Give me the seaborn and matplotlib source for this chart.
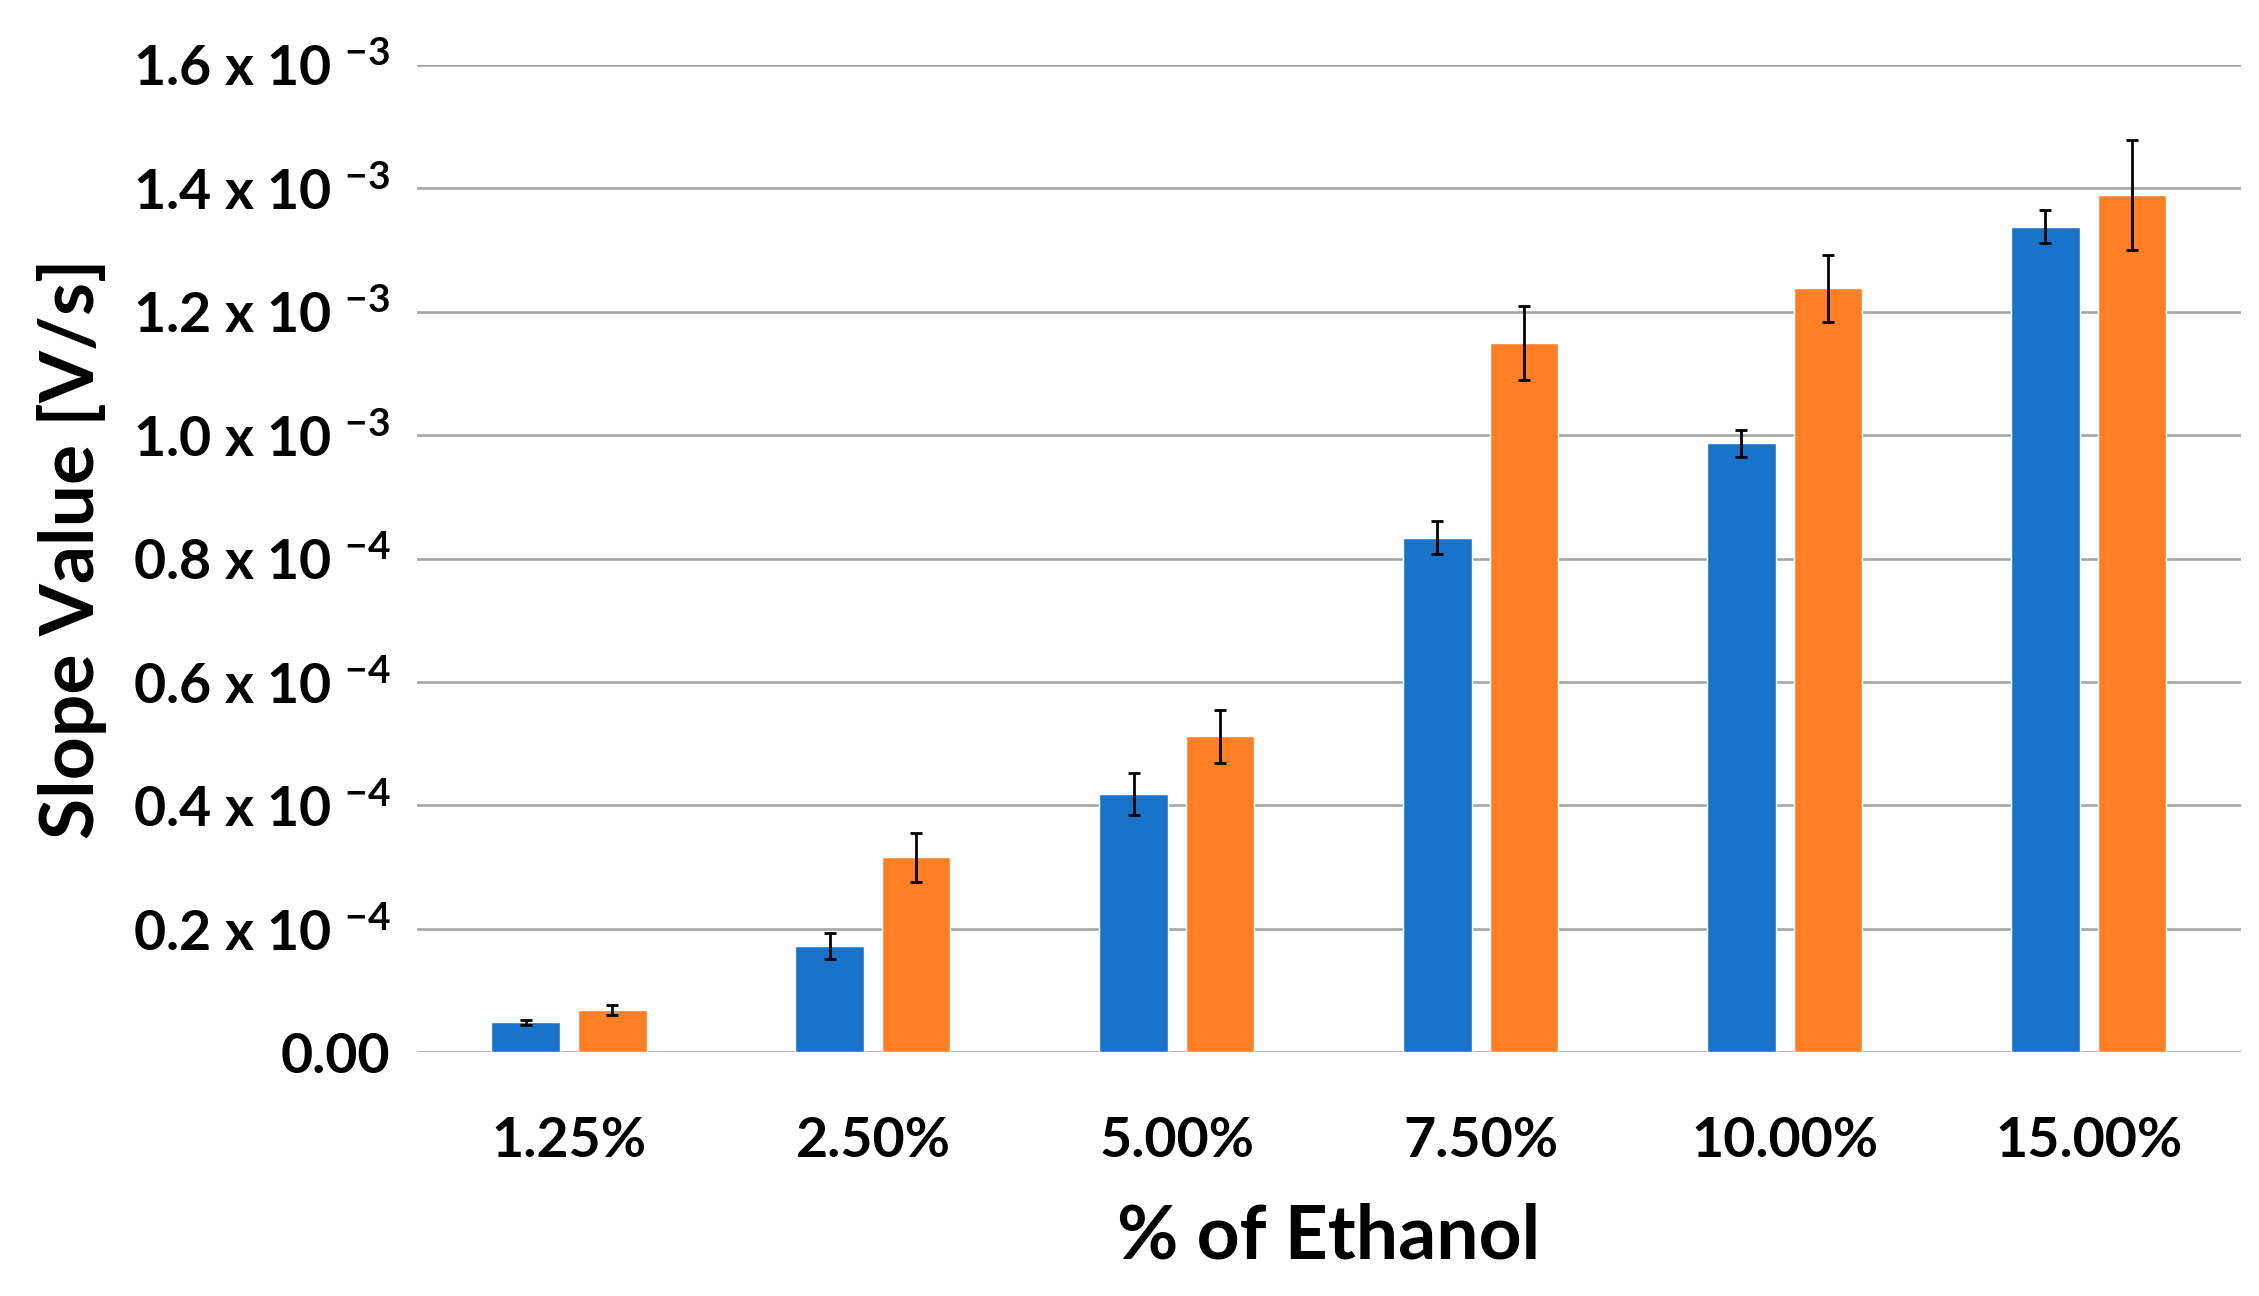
import pandas as pd
import seaborn as sns
import matplotlib.pyplot as plt

# valores (unidades de 1e-3 V/s)
categorias = ["1.25%", "2.50%", "5.00%", "7.50%", "10.00%", "15.00%"]
serie_a = [0.049, 0.173, 0.419, 0.834, 0.987, 1.338]
serie_b = [0.068, 0.316, 0.512, 1.149, 1.238, 1.389]
error_a = [0.004, 0.021, 0.034, 0.027, 0.022, 0.026]
error_b = [0.008, 0.040, 0.043, 0.060, 0.054, 0.089]
ticks_y = [0.0, 0.2, 0.4, 0.6, 0.8, 1.0, 1.2, 1.4, 1.6]
etiquetas_y = ["0.00",
               "0.2 x 10 $^{-4}$", "0.4 x 10 $^{-4}$", "0.6 x 10 $^{-4}$", "0.8 x 10 $^{-4}$",
               "1.0 x 10 $^{-3}$", "1.2 x 10 $^{-3}$", "1.4 x 10 $^{-3}$", "1.6 x 10 $^{-3}$"]

df = pd.DataFrame({
    "etanol": categorias * 2,
    "pendiente": serie_a + serie_b,
    "serie": ["A"] * len(categorias) + ["B"] * len(categorias),
})

sns.set_style("white")
plt.rcParams["font.family"] = ["Lato", "DejaVu Sans"]
plt.rcParams["font.weight"] = "bold"
plt.rcParams["text.color"] = "black"
plt.rcParams["axes.labelcolor"] = "black"
plt.rcParams["xtick.color"] = "black"
plt.rcParams["ytick.color"] = "black"
plt.rcParams["mathtext.fontset"] = "custom"
plt.rcParams["mathtext.rm"] = "Lato:bold"
plt.rcParams["mathtext.bf"] = "Lato:bold"
plt.rcParams["mathtext.default"] = "bf"

fig = plt.figure(figsize=(22.59, 12.96), dpi=100)
ax = fig.add_axes([0.1846, 0.188, 0.8074, 0.762])

sns.barplot(data=df, x="etanol", y="pendiente", hue="serie",
            palette=["#1874CB", "#FF7F27"], width=0.572, gap=0.217,
            errorbar=None, legend=False, ax=ax, saturation=1)

for cont, errs in zip(ax.containers, [error_a, error_b]):
    xs = [p.get_x() + p.get_width() / 2 for p in cont.patches]
    ys = [p.get_height() for p in cont.patches]
    ax.errorbar(xs, ys, yerr=errs, fmt="none", ecolor="black",
                elinewidth=2.0, capsize=4.5, capthick=2.0, zorder=5)

ax.set_ylim(0, 1.6)
ax.set_xlim(-0.5, len(categorias) - 0.5)
ax.set_yticks(ticks_y)
ax.set_yticklabels(etiquetas_y)
ax.tick_params(axis="y", length=0, pad=19, labelsize=40, labelcolor="black")
ax.tick_params(axis="x", length=0, pad=46, labelsize=40, labelcolor="black")
for lbl in ax.get_xticklabels() + ax.get_yticklabels():
    lbl.set_fontweight("bold")

ax.set_axisbelow(True)
ax.yaxis.grid(True, color="#A6A6A6", linewidth=1.9)
ax.axhline(0, color="#D9D9D9", linewidth=1.9, zorder=0.5)
sns.despine(ax=ax, left=True, bottom=True)

ax.set_xlabel("% of Ethanol", fontsize=54, fontweight="bold", labelpad=26, color="black")
ax.set_ylabel("Slope Value [V/s]", fontsize=54, fontweight="bold", color="black")
ax.yaxis.set_label_coords(-0.17, 0.51)

fig.savefig("out.png", dpi=100)
